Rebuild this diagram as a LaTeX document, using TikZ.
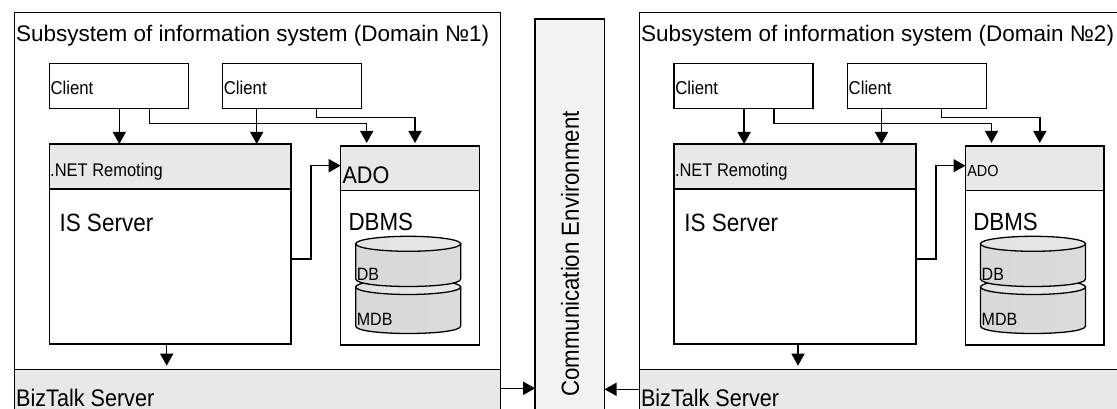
\documentclass[tikz,border=0pt]{standalone}
\usepackage{fontspec}
\setmainfont{Liberation Sans}
\newfontfamily\narrowsans[FakeStretch=0.9]{Liberation Sans}
\usetikzlibrary{arrows.meta,positioning}
\definecolor{panelgray}{HTML}{E8E8E8}
\definecolor{commgray}{HTML}{F2F2F2}
\tikzset{
  box/.style={draw, line width=1.5pt, inner sep=0pt, outer sep=0pt, anchor=north west},
  panel/.style={box, fill=panelgray},
  txt/.style={inner sep=0pt, anchor=base west},
  arr/.style={line width=1.5pt, -{Triangle[length=12pt,width=13pt]}},
  cylbody/.style={draw, line width=1.3pt, left color=gray!30, middle color=white, right color=gray!28},
  cyltop/.style={draw, line width=1.3pt, left color=gray!22, middle color=white, right color=gray!18},
}

\begin{document}
\begin{tikzpicture}[x=1pt, y=-1pt]
\useasboundingbox (0,0) rectangle (1117,409);
\clip (0,0) rectangle (1117,409);

% communication environment in the middle
\node[box, fill=commgray, minimum width=69.3, minimum height=430] (comm) at (535.2,19) {};
\node[rotate=90, font=\narrowsans\fontsize{24.7}{28}\selectfont] (commt) at (570,254) {Communication Environment};

% the two domains
\foreach \d/\sx/\adosize/\ab/\bx in {1/0/24/183.3/166.7, 2/624.8/16/176/173.2} {
\begin{scope}[xshift=\sx pt]
  \node[box, minimum width=486, minimum height=357] (dom\d) at (14.5,12.7) {};
  \node[panel, below=0pt of dom\d, minimum width=486, minimum height=70] (biz\d) {};
  \node[txt, font=\fontsize{22.5}{26}\selectfont] (title\d) at (16,41.7) {Subsystem of information system (Domain №\d)};
  \node[txt, font=\narrowsans\fontsize{24}{28}\selectfont] (bizt\d) at (16,406) {BizTalk Server};

  % clients
  \node[box, minimum width=139, minimum height=45] (clienta\d) at (49.3,63.3) {};
  \node[box, minimum width=139, minimum height=45] (clientb\d) at (222.7,63.3) {};
  \node[txt, font=\narrowsans\fontsize{18.6}{22}\selectfont] at (50.3,95) {Client};
  \node[txt, font=\narrowsans\fontsize{18.6}{22}\selectfont] at (223.7,95) {Client};

  % server side
  \node[panel, minimum width=241.7, minimum height=45] (net\d) at (49.3,144) {};
  \node[box, below=0pt of net\d, minimum width=241.7, minimum height=155] (is\d) {};
  \node[txt, font=\narrowsans\fontsize{18.3}{22}\selectfont] (nett\d) at (50,176.7) {.NET Remoting};
  \node[txt, font=\narrowsans\fontsize{25}{30}\selectfont] (ist\d) at (59.3,231) {IS Server};

  % data side
  \node[panel, minimum width=138.6, minimum height=44.7] (ado\d) at (340.7,146) {};
  \node[box, below=0pt of ado\d, minimum width=138.6, minimum height=154.3] (dbms\d) {};
  \node[txt, font=\narrowsans\fontsize{\adosize}{28}\selectfont] (adot\d) at (342.3,\ab) {ADO};
  \node[txt, font=\narrowsans\fontsize{24.8}{30}\selectfont] (dbmst\d) at (348.3,230.7) {DBMS};

  \foreach \nm/\yt/\yb/\ly in {MDB/287/326/325, DB/243.8/279/280} {
    \draw[cylbody] (355.7,\yt) -- (355.7,\yb) .. controls (355.7,\yb+10) and (460.7,\yb+10) .. (460.7,\yb) -- (460.7,\yt) -- cycle;
    \draw[cyltop] (408.2,\yt) ellipse [x radius=52.5, y radius=7.5];
    \node[txt, font=\narrowsans\fontsize{17.8}{20}\selectfont] at (356.7,\ly) {\nm};
  }

  % connectors
  \draw[arr] (clienta\d.south -| 119.3,0) -- (net\d.north -| 119.3,0);
  \draw[arr] (clientb\d.south -| 256.7,0) -- (net\d.north -| 256.7,0);
  \draw[arr, shorten >=3pt] (clienta\d.south -| 149.3,0) |- (366.7,123.3) -- (ado\d.north -| 366.7,0);
  \draw[arr, shorten >=3pt] (clientb\d.south -| 316.7,0) |- (415,117.3) -- (ado\d.north -| 415,0);
  \draw[arr] (is\d.east |- 0,259) -| (311,165.7) -- (ado\d.west |- 0,165.7);
  \draw[arr, shorten >=4pt] (is\d.south -| \bx,0) -- (biz\d.north -| \bx,0);
\end{scope}
}

\draw[arr] (biz1.east |- 0,388.3) -- (comm.west |- 0,388.3);
\draw[arr] (biz2.west |- 0,389.3) -- (comm.east |- 0,389.3);
\end{tikzpicture}
\end{document}
